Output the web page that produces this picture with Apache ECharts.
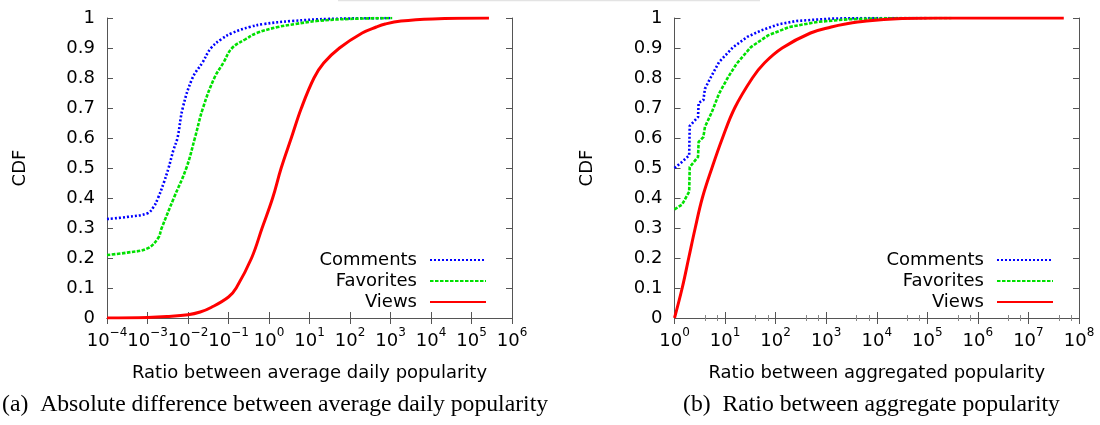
<!DOCTYPE html>
<html><head><meta charset="utf-8">
<script src="https://cdn.jsdelivr.net/npm/echarts@6/dist/echarts.min.js"></script>
<style>html,body{margin:0;padding:0;background:#fff}#c{width:1100px;height:425px}</style>
</head><body><div id="c"></div>
<script>
// ---- data ----
const seriesNames = ['Comments', 'Favorites', 'Views'];
const seriesColors = ['#0000ff', '#00e000', '#ff0000'];

// (a) ratio between average daily popularity
const dailyComments = [[1e-4,0.33],[3.16e-4,0.337],[1e-3,0.349],[1.41e-3,0.37],[1.82e-3,0.40],[2.51e-3,0.45],[3.31e-3,0.50],[4.37e-3,0.56],[5.5e-3,0.60],[7.41e-3,0.70],[1.29e-2,0.80],[2.24e-2,0.85],[3.72e-2,0.90],[6.76e-2,0.93],[0.123,0.95],[0.331,0.97],[0.741,0.98],[3.72,0.99],[31.6,0.997],[1100,1.0]];
const dailyFavorites = [[1e-4,0.21],[3.16e-4,0.218],[1e-3,0.232],[1.82e-3,0.266],[2.24e-3,0.30],[4.47e-3,0.40],[9.12e-3,0.50],[1.48e-2,0.60],[2.34e-2,0.70],[4.47e-2,0.80],[7.41e-2,0.85],[0.123,0.90],[0.269,0.93],[0.501,0.95],[1.66,0.97],[4.47,0.98],[14.8,0.99],[100,0.997],[1100,1.0]];
const dailyViews = [[1e-4,0.0],[1e-3,0.002],[3e-3,0.005],[1e-2,0.011],[2e-2,0.02],[3.72e-2,0.035],[0.1,0.07],[0.155,0.10],[0.372,0.20],[0.676,0.30],[1.23,0.40],[2.0,0.50],[3.55,0.60],[6.31,0.70],[12.9,0.80],[22.4,0.85],[55,0.90],[200,0.95],[447,0.97],[741,0.98],[1820,0.99],[11000,0.997],[2.7e5,1.0]];

// (b) ratio between aggregate popularity
const aggComments = [[1,0.50],[1.4,0.52],[1.95,0.542],[2.0,0.64],[2.92,0.67],[3.0,0.717],[3.72,0.726],[4.0,0.764],[5.13,0.80],[7.59,0.853],[14.5,0.903],[27.5,0.937],[52.5,0.959],[115,0.979],[257,0.99],[1260,0.998],[6300,1.0],[1e5,1.0]];
const aggFavorites = [[1,0.362],[1.41,0.378],[1.95,0.421],[2.0,0.503],[2.92,0.537],[3.0,0.587],[3.72,0.603],[4.0,0.637],[5.5,0.687],[7.59,0.748],[11.5,0.803],[17,0.848],[32.4,0.903],[70.8,0.942],[186,0.97],[676,0.987],[2820,0.996],[31600,1.0],[3e5,1.0]];
const aggViews = [[1,0.0],[1.42,0.10],[1.91,0.20],[2.57,0.30],[3.55,0.40],[5.5,0.50],[8.9,0.60],[15.5,0.70],[34.7,0.80],[60,0.85],[135,0.90],[490,0.95],[1260,0.97],[2400,0.98],[6300,0.99],[31600,0.998],[1.55e5,1.0],[5e7,1.0]];

const xTitles = ['Ratio between average daily popularity', 'Ratio between aggregated popularity'];
const yTitle = 'CDF';
const captions = ['(a)  Absolute difference between average daily popularity', '(b)  Ratio between aggregate popularity'];
const xRanges = [[1e-4, 1e6], [1, 1e8]];
const xDecades = [10, 8];

// ---- chart ----
const SANS = 'DejaVu Sans';
const SERIF = 'Liberation Serif';
const FRAME = '#555';

function expLabel(v) {
  const e = Math.round(Math.log10(v));
  const s = e < 0 ? '\u2212' + (-e) : String(e);
  return '{b|10}{s|' + s + '}';
}

const grids = [
  {left: 107, top: 18, width: 405, height: 300},
  {left: 674.5, top: 18, width: 404.5, height: 300}
];

const xAxes = [];
const yAxes = [];
[0, 1].forEach(function (g) {
  const base = {
    type: 'log', logBase: 10, gridIndex: g,
    min: xRanges[g][0], max: xRanges[g][1], splitNumber: xDecades[g],
    axisLine: {show: true, lineStyle: {color: FRAME, width: 1}},
    axisTick: {show: true, inside: true, length: 6, lineStyle: {color: FRAME}},
    minorTick: {show: g === 1, inside: true, splitNumber: 3, length: 3, lineStyle: {color: '#888'}},
    splitLine: {show: false}, minorSplitLine: {show: false}
  };
  xAxes.push(Object.assign({}, base, {
    position: 'bottom',
    name: xTitles[g], nameLocation: 'middle', nameGap: 46,
    nameTextStyle: {fontFamily: SANS, fontSize: 18, color: '#000'},
    axisLabel: {
      margin: 9, hideOverlap: false, showMinLabel: true, showMaxLabel: true,
      formatter: expLabel,
      rich: {
        b: {fontFamily: SANS, fontSize: 18, color: '#000', lineHeight: 28},
        s: {fontFamily: SANS, fontSize: 12, color: '#000', lineHeight: 12, verticalAlign: 'top'}
      }
    }
  }));
  xAxes.push(Object.assign({}, base, {position: 'top', axisLabel: {show: false}}));
  const ybase = {
    type: 'value', gridIndex: g, min: 0, max: 1, interval: 0.1,
    axisLine: {show: true, lineStyle: {color: FRAME, width: 1}},
    axisTick: {show: true, inside: true, length: 6, lineStyle: {color: FRAME}},
    splitLine: {show: false}
  };
  yAxes.push(Object.assign({}, ybase, {
    position: 'left', name: yTitle, nameLocation: 'middle', nameGap: 78, nameRotate: 90,
    nameTextStyle: {fontFamily: SANS, fontSize: 18, color: '#000'},
    axisLabel: {margin: 12, fontFamily: SANS, fontSize: 18, color: '#000', hideOverlap: false}
  }));
  yAxes.push(Object.assign({}, ybase, {position: 'right', axisLabel: {show: false}}));
});

const lineStyles = [
  {width: 2.6, type: [2, 2]},
  {width: 2.6, type: [3.5, 1.5]},
  {width: 3, type: 'solid'}
];
const dataSets = [[dailyComments, dailyFavorites, dailyViews], [aggComments, aggFavorites, aggViews]];
// stepped (discrete-ratio) curves of panel (b) are drawn straight, the others smoothly
const smoothing = [[0.4, 0.4, 0.4], [false, false, 0.4]];
const series = [];
[0, 1].forEach(function (g) {
  seriesNames.forEach(function (n, i) {
    series.push({
      type: 'line', name: n, xAxisIndex: g * 2, yAxisIndex: g * 2,
      data: dataSets[g][i], symbol: 'none', showSymbol: false,
      smooth: smoothing[g][i],
      lineStyle: Object.assign({color: seriesColors[i], cap: 'butt', join: 'round'}, lineStyles[i]),
      itemStyle: {color: seriesColors[i]}, z: 2 + i
    });
  });
});

const legendBase = {
  data: seriesNames, orient: 'vertical', align: 'right', top: 251, padding: 0,
  itemWidth: 56, itemHeight: 2, itemGap: 3, selectedMode: false,
  itemStyle: {opacity: 0, borderWidth: 0},
  lineStyle: {opacity: 1},
  textStyle: {fontFamily: SANS, fontSize: 18, color: '#000', lineHeight: 18, padding: [0, 8, 0, 0]}
};

const option = {
  animation: false,
  backgroundColor: '#fff',
  grid: grids,
  xAxis: xAxes,
  yAxis: yAxes,
  series: series,
  legend: [
    Object.assign({}, legendBase, {right: 1100 - 487}),
    Object.assign({}, legendBase, {right: 1100 - 1054})
  ],
  title: [
    {text: captions[0], left: 2, top: 393, padding: 0, textStyle: {fontFamily: SERIF, fontSize: 23.7, fontWeight: 'normal', color: '#000'}},
    {text: captions[1], left: 683, top: 393, padding: 0, textStyle: {fontFamily: SERIF, fontSize: 23.7, fontWeight: 'normal', color: '#000'}}
  ],
  graphic: [
    {type: 'line', shape: {x1: 338, y1: 0.5, x2: 760, y2: 0.5}, style: {stroke: '#e3e3e3', lineWidth: 1.5}, silent: true}
  ]
};

const chart = echarts.init(document.getElementById('c'), null, {renderer: 'canvas'});
chart.setOption(option);
</script></body></html>
